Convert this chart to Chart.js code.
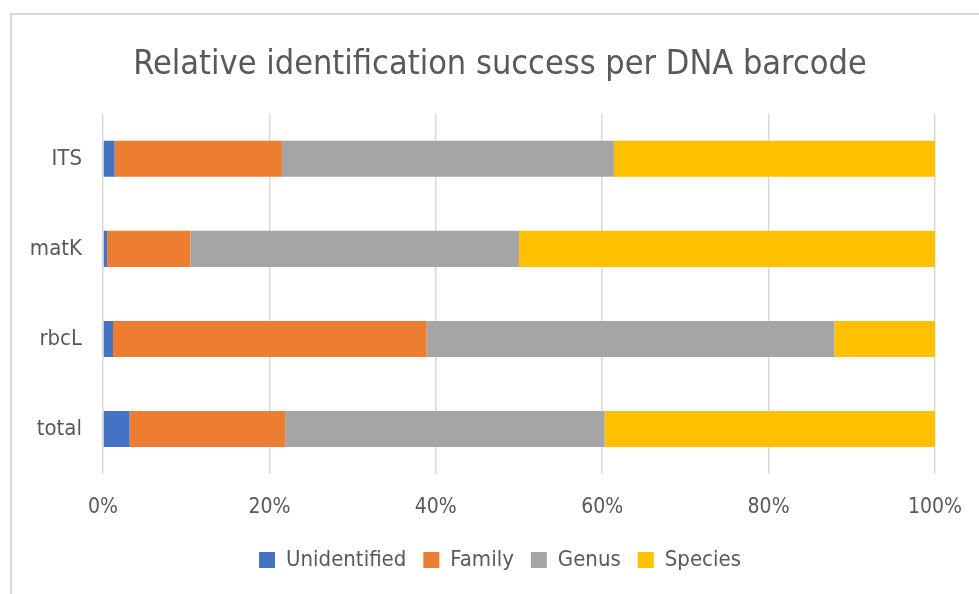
<!DOCTYPE html>
<html>
<head>
<meta charset="utf-8">
<script src="https://cdn.jsdelivr.net/npm/chart.js@4.4.1/dist/chart.umd.min.js"></script>
<style>
  html, body { margin: 0; padding: 0; background: #fff; }
  #wrap { position: relative; width: 979px; height: 594px; }
  #frame { position: absolute; left: 10px; top: 13px; right: -5px; bottom: -5px;
           border-left: 2px solid #d9d9d9; border-top: 2px solid #d9d9d9; }
  canvas { position: absolute; left: 0; top: 0; }
</style>
</head>
<body>
<div id="wrap">
  <div id="frame"></div>
  <canvas id="barChart" width="979" height="594"></canvas>
</div>
<script>
// barcodes, top to bottom
var barcodes = ["ITS", "matK", "rbcL", "total"];

// share of samples (%) per level
var unidentified = [1.4, 0.5, 1.2, 3.2];
var family = [20.1, 10.0, 37.7, 18.7];
var genus = [39.9, 39.5, 49.0, 38.4];
var species = [38.6, 50.0, 12.1, 39.7];

var xTicks = [0, 20, 40, 60, 80, 100];

var fuente = "'Liberation Sans Narrow', 'DejaVu Sans Condensed', sans-serif";
var gris = "#595959";

var barData = {
    labels: barcodes,
    datasets: [
        { label: "Unidentified", data: unidentified, backgroundColor: "#4472C4" },
        { label: "Family", data: family, backgroundColor: "#ED7D31" },
        { label: "Genus", data: genus, backgroundColor: "#A5A5A5" },
        { label: "Species", data: species, backgroundColor: "#FFC000" }
    ]
};

var barOptions = {
    indexAxis: 'y',
    responsive: false,
    animation: false,
    layout: { padding: { left: 21, right: 0, top: 0, bottom: 13 } },
    datasets: { bar: { categoryPercentage: 1, barPercentage: 0.4, borderWidth: 0 } },
    plugins: {
        title: {
            display: true,
            text: "Relative identification success per DNA barcode",
            color: gris,
            font: { family: fuente, size: 34, weight: 'normal', lineHeight: 1.2 },
            padding: { top: 45, bottom: 28 }
        },
        legend: {
            position: 'bottom',
            labels: {
                color: gris,
                font: { family: fuente, size: 22 },
                boxWidth: 16,
                boxHeight: 16,
                padding: 17
            }
        },
        tooltip: { enabled: false }
    },
    scales: {
        x: {
            stacked: true,
            min: 0,
            max: 100,
            afterBuildTicks: function (s) { s.ticks = xTicks.map(v => ({ value: v })); },
            afterFit: function (s) { s.height = 58; s.paddingRight = 44; s.paddingLeft = 0; },
            grid: { color: "#d9d9d9", lineWidth: 1.5, drawTicks: false },
            border: { display: false },
            ticks: {
                color: gris,
                font: { family: fuente, size: 21 },
                padding: 21,
                callback: function (v) { return v + "%"; }
            }
        },
        y: {
            stacked: true,
            afterFit: function (s) { s.width = 82; },
            grid: { display: false, drawTicks: false },
            border: { display: false },
            ticks: {
                color: gris,
                font: { family: fuente, size: 22 },
                padding: 21
            }
        }
    }
};

var ctx = document.getElementById("barChart").getContext("2d");
new Chart(ctx, { type: 'bar', data: barData, options: barOptions });
</script>
</body>
</html>
